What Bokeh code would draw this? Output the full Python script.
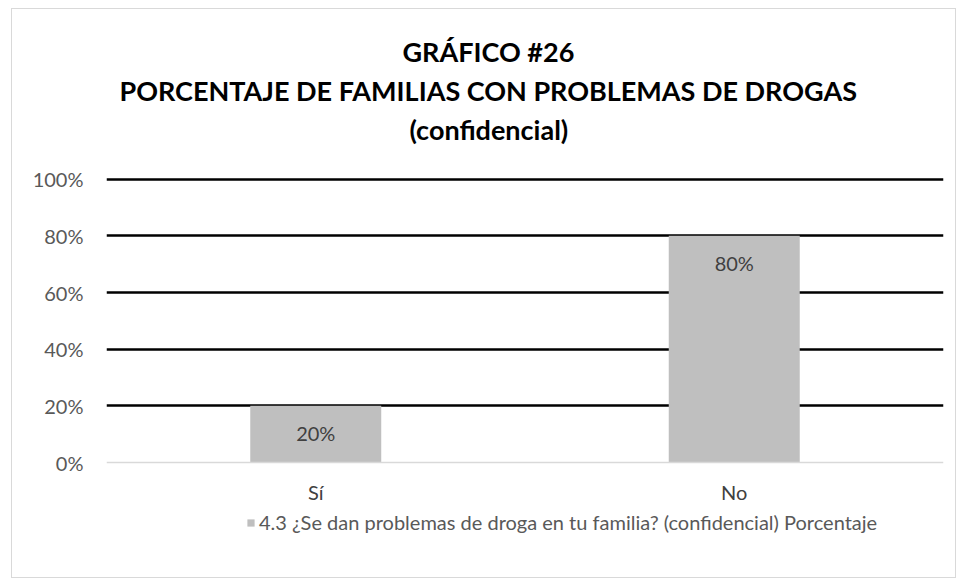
from bokeh.plotting import figure
from bokeh.models import (ColumnDataSource, FactorRange, Range1d, FixedTicker,
                          NumeralTickFormatter, LabelSet, Title, Legend, LegendItem)
from bokeh.embed import file_html
from bokeh.resources import INLINE
from bokeh.core.properties import value

# ---- data ----
categories = ["Sí", "No"]
percentages = [0.20, 0.80]
y_ticks = [0.0, 0.2, 0.4, 0.6, 0.8, 1.0]
title_lines = ["GRÁFICO #26",
               "PORCENTAJE DE FAMILIAS CON PROBLEMAS DE DROGAS",
               "(confidencial)"]
series_name = "4.3 ¿Se dan problemas de droga en tu familia? (confidencial) Porcentaje"

FONT = "Lato"
BAR = "#BFBFBF"

src = ColumnDataSource(dict(cat=categories, val=percentages,
                            lbl=[f"{v:.0%}" for v in percentages]))

# the frame reaches below 0 so that the legend row sits inside it
p = figure(frame_width=837, frame_height=361,
           x_range=FactorRange(factors=categories, range_padding=0),
           y_range=Range1d(-0.254, 1.02), output_backend="svg", toolbar_location=None,
           min_border_left=94, min_border_right=12, min_border_top=164, min_border_bottom=43,
           title=None)
p.styles = {"border": "1px solid #D9D9D9", "margin-left": "11px", "margin-top": "8px"}
p.outline_line_color = None
p.background_fill_color = "white"
p.border_fill_color = "white"

r = p.vbar(x="cat", top="val", width=0.313, source=src, fill_color=BAR, line_color=None)

# grid
p.xgrid.grid_line_color = None
p.ygrid.ticker = FixedTicker(ticks=y_ticks[1:])
p.ygrid.grid_line_color = "black"
p.ygrid.grid_line_width = 2.5

# y axis
p.yaxis.ticker = FixedTicker(ticks=y_ticks)
p.yaxis.formatter = NumeralTickFormatter(format="0%")
p.yaxis.axis_line_color = None
p.yaxis.major_tick_line_color = None
p.yaxis.minor_tick_line_color = None
p.yaxis.major_tick_out = 0
p.yaxis.major_label_standoff = 23
p.yaxis.major_label_text_font = FONT
p.yaxis.major_label_text_font_size = "20px"
p.yaxis.major_label_text_color = "#595959"

# x axis, drawn at the 0% level
p.xaxis.fixed_location = 0
p.xaxis.axis_line_color = "#D9D9D9"
p.xaxis.axis_line_width = 1.5
p.xaxis.major_tick_line_color = None
p.xaxis.major_tick_out = 0
p.xaxis.major_label_standoff = 17
p.xaxis.major_label_text_font = FONT
p.xaxis.major_label_text_font_size = "20px"
p.xaxis.major_label_text_color = "#404040"

# data labels
labels = LabelSet(x="cat", y="val", text="lbl", source=src, y_offset=-27,
                  text_align="center", text_baseline="middle",
                  text_font=value(FONT), text_font_size="20px", text_color="#404040")
p.add_layout(labels)

# spacer between frame and title block
p.add_layout(Title(text=" ", text_font_size="1px", standoff=23), "above")
# title (three lines, added nearest-to-frame first)
title_offsets = [296, 13, 303]
for t, off in reversed(list(zip(title_lines, title_offsets))):
    p.add_layout(Title(text=t, align="left", offset=off, standoff=4,
                       text_font=FONT, text_font_style="bold",
                       text_font_size="27px", text_color="black"), "above")

# legend
legend = Legend(items=[LegendItem(label=series_name, renderers=[r])],
                location=(140, 0), orientation="horizontal",
                border_line_color=None, background_fill_alpha=0,
                label_text_font=FONT, label_text_font_size="20px",
                label_text_color="#595959", glyph_width=9, glyph_height=9,
                padding=0, margin=0, label_standoff=4)
p.add_layout(legend, "center")

open("out.html", "w").write(file_html(p, INLINE))
